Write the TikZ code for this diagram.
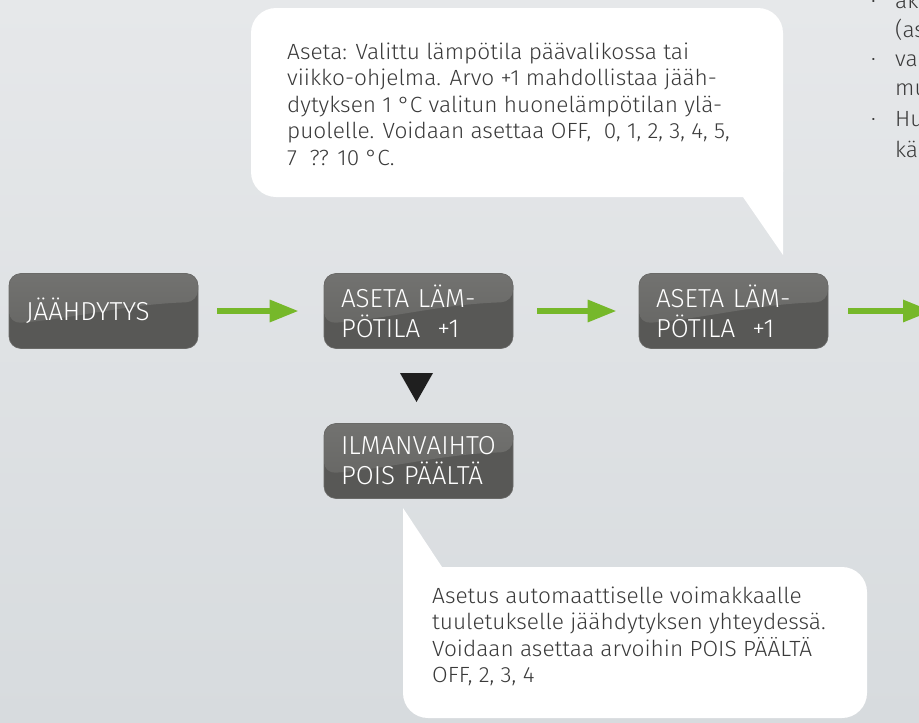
\documentclass[tikz,border=0pt]{standalone}
\usepackage{fontspec}
\setmainfont{Fira Sans Light}
\newfontfamily\callfont[FakeStretch=1.03]{Fira Sans Light}
\usetikzlibrary{arrows.meta,calc}
\definecolor{bgtop}{HTML}{E6E8EA}
\definecolor{bgbot}{HTML}{D7DBDE}
\definecolor{boxdark}{HTML}{585856}
\definecolor{boxlight}{HTML}{727270}
\definecolor{boxmid}{HTML}{636361}
\definecolor{boxedge}{HTML}{6A6A68}
\definecolor{arrowgreen}{HTML}{76B82A}
\definecolor{txt}{HTML}{3A3A3A}
\begin{document}
\begin{tikzpicture}[x=1pt,y=-1pt,
  menubox/.style={rounded corners=12pt, minimum width=189pt, minimum height=75pt,
    inner xsep=17pt, inner ysep=0pt, align=left, text width=155pt,
    fill=boxdark, draw=boxedge, line width=0.6pt, text=white,
    font=\fontsize{26}{30}\selectfont,
    path picture={
      \fill[top color=boxlight, bottom color=boxmid]
        (path picture bounding box.north west) -- (path picture bounding box.north east)
        -- ($(path picture bounding box.north east)!0.38!(path picture bounding box.south east)$)
        .. controls +(-70pt,-2pt) and +(70pt,6pt) ..
        ($(path picture bounding box.north west)!0.67!(path picture bounding box.south west)$)
        -- cycle;
    }},
  garrow/.style={draw=arrowgreen, line width=6pt, -{Triangle[length=29pt,width=21pt]}},
  calltext/.style={text=txt, align=left, inner sep=0pt, font=\callfont\fontsize{22}{26.5}\selectfont},
  bubble/.style={fill=white}
]
\useasboundingbox (0,0) rectangle (919,723);
\shade[top color=bgtop, bottom color=bgbot] (0,0) rectangle (919,723);

% upper callout
\fill[bubble, rounded corners=25pt] (251,8) rectangle (783,197);
\fill[bubble] (743,170) -- (783,170) -- (783,255) -- (743,197) -- cycle;
\node[calltext, anchor=base west] (c1) at (287,165) {Aseta: Valittu lämpötila päävalikossa tai\\
viikko-ohjelma. Arvo +1 mahdollistaa jääh-\\
dytyksen 1 °C valitun huonelämpötilan ylä-\\
puolelle. Voidaan asettaa OFF,\ \ 0, 1, 2, 3, 4, 5,\\
7\ \ ?? 10 °C.};

% lower callout
\fill[bubble, rounded corners=25pt] (403,567) rectangle (867,718);
\fill[bubble] (403,508) -- (442,567) -- (442,600) -- (403,600) -- cycle;
\node[calltext, anchor=base west] (c2) at (432,682.5) {Asetus automaattiselle voimakkaalle\\
tuuletukselle jäähdytyksen yhteydessä.\\
Voidaan asettaa arvoihin POIS PÄÄLTÄ\\
OFF, 2, 3, 4};

% right-side cut text
\node[calltext, anchor=base west] (r1) at (871,8) {\makebox[24pt][l]{·}ak};
\node[calltext, anchor=base west] (r2) at (895,37) {(as};
\node[calltext, anchor=base west] (r3) at (871,66) {\makebox[24pt][l]{·}va};
\node[calltext, anchor=base west] (r4) at (895,95) {mu};
\node[calltext, anchor=base west] (r5) at (871,126) {\makebox[24pt][l]{·}Hu};
\node[calltext, anchor=base west] (r6) at (895,157) {kä};

% boxes
\node[menubox] (j) at (103.5,311) {JÄÄHDYTYS};
\node[menubox] (a1) at (418.5,311) {ASETA LÄM-\\PÖTILA\ \ +1};
\node[menubox] (a2) at (733.5,311) {ASETA LÄM-\\PÖTILA\ \ +1};
\node[menubox] (v) at (418.5,461) {ILMANVAIHTO\\POIS PÄÄLTÄ};
\coordinate (nx) at (932,311);

% arrows
\draw[garrow, shorten <=19pt, shorten >=25pt] (j.east) -- (a1.west);
\draw[garrow, shorten <=24pt, shorten >=22pt] (a1.east) -- (a2.west);
\draw[garrow, shorten <=20pt] (a2.east) -- (nx);

% down marker
\fill[black!88] (400,373) -- (433,373) -- (416.5,402) -- cycle;
\end{tikzpicture}
\end{document}
